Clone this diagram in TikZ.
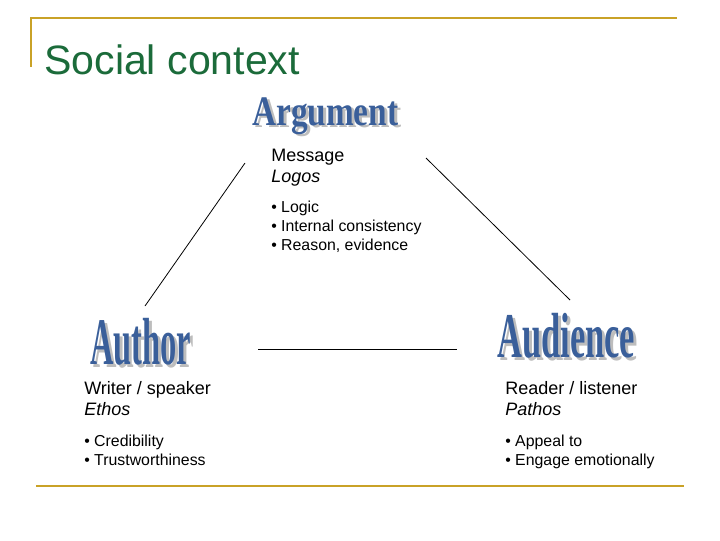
\documentclass[tikz,border=0pt]{standalone}
\usepackage{fontspec}
\usepackage{graphicx}
\setmainfont{Liberation Sans}
\newfontfamily\wafont{Liberation Serif}
\definecolor{goldc}{HTML}{C9A227}
\definecolor{titlegreen}{HTML}{1B6B3A}
\definecolor{wablue}{HTML}{3A5F9A}
\definecolor{washadow}{HTML}{BDBDBD}
\newcommand\mywaraw[3]{\resizebox*{#1}{#2}{\wafont\bfseries #3}}
\newcommand\mywa[3]{\makebox[0pt][l]{\hspace{2.2pt}\raisebox{-2.2pt}{\color{washadow}\mywaraw{#1}{#2}{#3}}}{\color{wablue}\mywaraw{#1}{#2}{#3}}}
\begin{document}
\begin{tikzpicture}[x=0.75pt,y=-0.75pt,
  lbl/.style={anchor=base west, inner sep=0pt, font=\fontsize{13.5}{16}\selectfont},
  bul/.style={anchor=base west, inner sep=0pt, font=\fontsize{11.9}{14}\selectfont},
  gold/.style={draw=goldc, line width=2.2pt},
  conn/.style={draw=black, line width=0.6pt},
  wa/.style={anchor=north west, inner sep=0pt}]
\useasboundingbox[fill=white] (0,0) rectangle (720,540);
% frame lines
\coordinate (tl) at (31,18);
\coordinate (tr) at (677,18);
\coordinate (lb) at (31,67);
\coordinate (bl) at (36,486);
\coordinate (br) at (684,486);
\draw[gold] (tr) -- (tl) -- (lb);
\draw[gold] (bl) -- (br);
% title
\node[anchor=base west, inner sep=0pt, text=titlegreen, font=\fontsize{30.8}{34}\selectfont] (title) at (44,74) {Social context};
% word art
\node[wa] (arg) at (252,97) {\mywa{109.5pt}{27.75pt}{Argument}};
\node[wa] (aut) at (90,318) {\mywa{75.75pt}{35.25pt}{Author}};
\node[wa] (aud) at (497,313) {\mywa{103.5pt}{33.75pt}{Audience}};
% argument texts
\node[lbl] (msg) at (271,161) {Message};
\node[lbl] (logos) at (271,182) {\itshape Logos};
\node[bul] (m1) at (271,212) {\textbullet\ Logic};
\node[bul] (m2) at (271,231) {\textbullet\ Internal consistency};
\node[bul] (m3) at (271,250) {\textbullet\ Reason, evidence};
% author texts
\node[lbl] (writer) at (84,394) {Writer / speaker};
\node[lbl] (ethos) at (84,415) {\itshape Ethos};
\node[bul] (a1) at (84,446) {\textbullet\ Credibility};
\node[bul] (a2) at (84,465) {\textbullet\ Trustworthiness};
% audience texts
\node[lbl] (reader) at (505,394) {Reader / listener};
\node[lbl] (pathos) at (505,415) {\itshape Pathos};
\node[bul] (p1) at (505,446) {\textbullet\ Appeal to};
\node[bul] (p2) at (505,465) {\textbullet\ Engage emotionally};
% connectors
\coordinate (la) at (245,163);
\coordinate (lb2) at (145,306);
\coordinate (ra) at (426,158);
\coordinate (rb) at (570,300);
\coordinate (ba) at (258,349);
\coordinate (bb) at (457,349);
\draw[conn] (la) -- (lb2);
\draw[conn] (ra) -- (rb);
\draw[conn] (ba) -- (bb);
\end{tikzpicture}
\end{document}
